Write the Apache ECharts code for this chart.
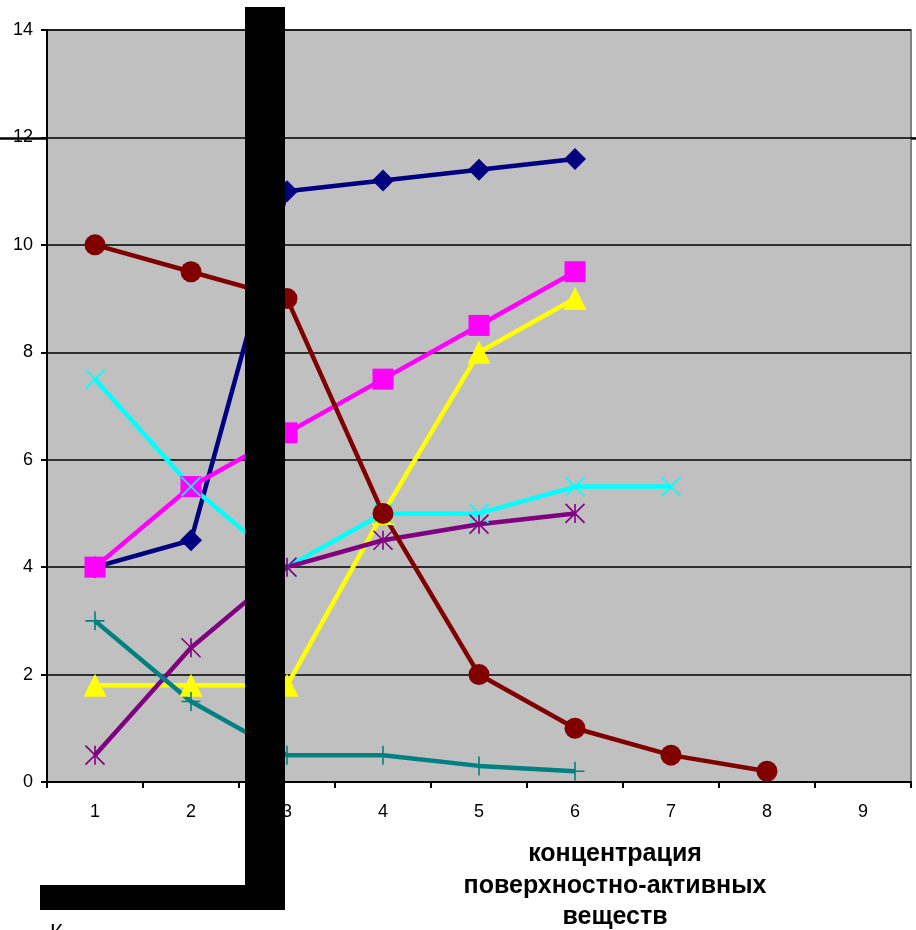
<!DOCTYPE html>
<html><head><meta charset="utf-8">
<script src="https://cdn.jsdelivr.net/npm/echarts@6/dist/echarts.min.js"></script>
<style>html,body{margin:0;padding:0;background:#fff}#c{width:916px;height:930px}</style>
</head><body><div id="c"></div>
<script>
const categories = ['1','2','3','4','5','6','7','8','9'];
const yTicks = [0, 14, 2];
const navy    = [4, 4.5, 11, 11.2, 11.4, 11.6, null, null, null];
const magenta = [4, 5.5, 6.5, 7.5, 8.5, 9.5, null, null, null];
const yellow  = [1.8, 1.8, 1.8, 5, 8, 9, null, null, null];
const cyan    = [7.5, 5.5, 4, 5, 5, 5.5, 5.5, null, null];
const purple  = [0.5, 2.5, 4, 4.5, 4.8, 5, null, null, null];
const teal    = [3, 1.5, 0.5, 0.5, 0.3, 0.2, null, null, null];
const darkred = [10, 9.5, 9, 5, 2, 1, 0.5, 0.2, null];
const axisTitle = 'концентрация\nповерхностно-активных\nвеществ';

const chart = echarts.init(document.getElementById('c'), null, {renderer:'canvas'});
const font = 'Arial, "Liberation Sans", sans-serif';
function lineSeries(name, data, color, symbol, size, hollow) {
  return {
    name, type:'line', data, symbol, symbolSize:size, showAllSymbol:true,
    connectNulls:false, animation:false,
    lineStyle:{color, width:4.5},
    itemStyle: hollow ? {color:'rgba(0,0,0,0)', borderColor:color, borderWidth:1.6} : {color},
    emphasis:{disabled:true}
  };
}
const X = 'path://M0 0L10 10M10 0L0 10';
const AST = 'path://M0 0L10 10M10 0L0 10M5 0L5 10';
const PLUS = 'path://M5 0L5 10M0 5L10 5';
chart.setOption({
  animation:false,
  grid:{left:47, top:30, right:5, bottom:148, show:true, backgroundColor:'#c0c0c0', borderColor:'#808080', borderWidth:2},
  xAxis:{type:'category', data:categories, boundaryGap:true,
    axisLine:{lineStyle:{color:'#000', width:2}},
    axisTick:{show:true, alignWithLabel:false, length:6, lineStyle:{color:'#000', width:2}},
    axisLabel:{color:'#000', fontSize:18, fontFamily:font, margin:21},
    splitLine:{show:false}},
  yAxis:{type:'value', min:yTicks[0], max:yTicks[1], interval:yTicks[2],
    axisLine:{show:true, lineStyle:{color:'#000', width:2}},
    axisTick:{show:true, length:6, lineStyle:{color:'#000', width:2}},
    axisLabel:{color:'#000', fontSize:18, fontFamily:font, margin:14},
    splitLine:{show:true, lineStyle:{color:'#000', width:1.5}}},
  series:[
    lineSeries('navy', navy, '#000080', 'diamond', 22, false),
    lineSeries('magenta', magenta, '#ff00ff', 'rect', 21, false),
    lineSeries('yellow', yellow, '#ffff00', 'triangle', 23, false),
    lineSeries('cyan', cyan, '#00ffff', X, 19, true),
    lineSeries('purple', purple, '#800080', AST, 19, true),
    lineSeries('teal', teal, '#008080', PLUS, 19, true),
    lineSeries('darkred', darkred, '#800000', 'circle', 21, false)
  ]
});
const y12 = chart.convertToPixel({yAxisIndex:0}, 12);
chart.setOption({
  graphic:[
    {type:'line', shape:{x1:0, y1:y12+1, x2:47, y2:y12+1}, style:{stroke:'#000', lineWidth:2.5}, z:50},
    {type:'line', shape:{x1:911, y1:y12+1, x2:916, y2:y12+1}, style:{stroke:'#000', lineWidth:2.5}, z:50},
    {type:'text', x:615, y:886, z:50, style:{text:axisTitle, font:'bold 25px Arial, "Liberation Sans", sans-serif', textAlign:'center', textVerticalAlign:'middle', lineHeight:31.5, fill:'#000'}},
    {type:'text', x:50, y:922, z:50, style:{text:'К', font:'22px Arial, "Liberation Sans", sans-serif', fill:'#000'}},
    {type:'rect', shape:{x:245, y:7, width:40, height:903}, style:{fill:'#000'}, z:100},
    {type:'rect', shape:{x:40, y:885, width:245, height:25}, style:{fill:'#000'}, z:100}
  ]
});
</script></body></html>
